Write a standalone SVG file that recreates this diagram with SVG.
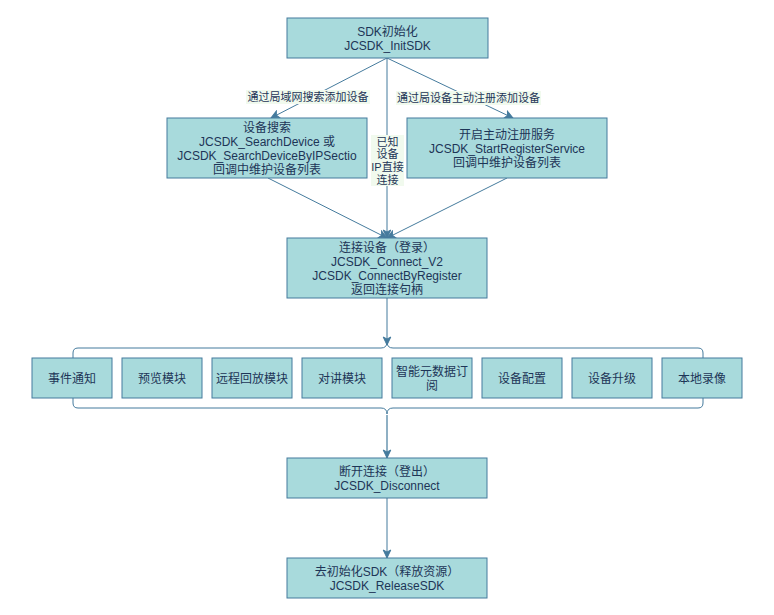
<svg xmlns="http://www.w3.org/2000/svg" width="774" height="615" viewBox="0 0 774 615">
<style>
.box{fill:#A8DADC;stroke:#457B9D;stroke-width:1}
.t{font-family:"Liberation Sans","Noto Sans CJK SC",sans-serif;font-size:12px;fill:#1D3557;text-anchor:middle}
.lt{font-family:"Liberation Sans","Noto Sans CJK SC",sans-serif;font-size:11px;fill:#1D3557;text-anchor:middle}
.e{fill:none;stroke:#457B9D;stroke-width:1}
.lbg{fill:#F1FAEE}
</style>
<defs>
<marker id="ah" viewBox="-9 -5 10 10" refX="0" refY="0" markerWidth="10" markerHeight="10" markerUnits="userSpaceOnUse" orient="auto">
<path d="M0,0 L-8,-3.8 L-6,0 L-8,3.8 Z" fill="#457B9D" stroke="#457B9D" stroke-width="1"/>
</marker>
</defs>
<rect width="774" height="615" fill="#ffffff"/>
<g id="connectors">
<path class="e" d="M387,58 L271,118" marker-end="url(#ah)"/>
<path class="e" d="M387,58 L513,118" marker-end="url(#ah)"/>
<path class="e" d="M387,58 L387,238" marker-end="url(#ah)"/>
<path class="e" d="M268,178 L387,238" marker-end="url(#ah)"/>
<path class="e" d="M507,178 L387,238" marker-end="url(#ah)"/>
<path class="e" d="M387,298 L387,345" marker-end="url(#ah)"/>
<path d="M387,415 L387,458" fill="none" stroke="#457B9D" stroke-opacity="0.6" stroke-width="2" marker-end="url(#ah)"/>
<path class="e" d="M387,498 L387,558" marker-end="url(#ah)"/>
<rect class="lbg" x="246" y="90" width="124" height="14"/>
<text class="lt" x="308" y="101">通过局域网搜索添加设备</text>
<rect class="lbg" x="396" y="91" width="145" height="14"/>
<text class="lt" x="468.5" y="102">通过局设备主动注册添加设备</text>
<rect class="lbg" x="371" y="135" width="33" height="51"/>
<text class="lt" x="387.5" y="145.5">已知</text>
<text class="lt" x="387.5" y="158">设备</text>
<text class="lt" x="387.5" y="171">IP直接</text>
<text class="lt" x="387.5" y="184">连接</text>
</g>
<g id="n-init">
<rect class="box" x="287" y="18" width="201" height="40"/>
<text class="t" x="387.5" y="35.5">SDK初始化</text>
<text class="t" x="387.5" y="49.5">JCSDK_InitSDK</text>
</g>
<g id="n-search">
<rect class="box" x="167" y="118" width="200" height="60"/>
<text class="t" x="267" y="131.5">设备搜索</text>
<text class="t" x="267" y="145.5">JCSDK_SearchDevice 或</text>
<text class="t" x="267" y="159.5">JCSDK_SearchDeviceByIPSectio</text>
<text class="t" x="267" y="173.5">回调中维护设备列表</text>
</g>
<g id="n-register">
<rect class="box" x="407" y="118" width="200" height="60"/>
<text class="t" x="507" y="138.5">开启主动注册服务</text>
<text class="t" x="507" y="152.5">JCSDK_StartRegisterService</text>
<text class="t" x="507" y="166.5">回调中维护设备列表</text>
</g>
<g id="n-connect">
<rect class="box" x="287" y="238" width="200" height="60"/>
<text class="t" x="387" y="251.5">连接设备（登录）</text>
<text class="t" x="387" y="265.5">JCSDK_Connect_V2</text>
<text class="t" x="387" y="279.5">JCSDK_ConnectByRegister</text>
<text class="t" x="387" y="293.5">返回连接句柄</text>
</g>
<g id="n-brace-top">
<path class="e" d="M73,358 L73,353 Q73,348 78,348 L381,348 Q387,348 387,342 Q387,348 393,348 L698,348 Q703,348 703,353 L703,358"/>
</g>
<g id="n-brace-bottom">
<path class="e" d="M73,398 L73,403 Q73,408 78,408 L381,408 Q387,408 387,414 Q387,408 393,408 L698,408 Q703,408 703,403 L703,398"/>
</g>
<g id="n-event">
<rect class="box" x="32" y="358" width="80" height="40"/>
<text class="t" x="72" y="382.5">事件通知</text>
</g>
<g id="n-preview">
<rect class="box" x="122" y="358" width="80" height="40"/>
<text class="t" x="162" y="382.5">预览模块</text>
</g>
<g id="n-playback">
<rect class="box" x="212" y="358" width="80" height="40"/>
<text class="t" x="252" y="382.5">远程回放模块</text>
</g>
<g id="n-talk">
<rect class="box" x="302" y="358" width="80" height="40"/>
<text class="t" x="342" y="382.5">对讲模块</text>
</g>
<g id="n-meta">
<rect class="box" x="392" y="358" width="80" height="40"/>
<text class="t" x="432" y="376">智能元数据订</text>
<text class="t" x="432" y="389.5">阅</text>
</g>
<g id="n-config">
<rect class="box" x="482" y="358" width="80" height="40"/>
<text class="t" x="522" y="382.5">设备配置</text>
</g>
<g id="n-upgrade">
<rect class="box" x="572" y="358" width="80" height="40"/>
<text class="t" x="612" y="382.5">设备升级</text>
</g>
<g id="n-record">
<rect class="box" x="662" y="358" width="80" height="40"/>
<text class="t" x="702" y="382.5">本地录像</text>
</g>
<g id="n-disconnect">
<rect class="box" x="287" y="458" width="200" height="40"/>
<text class="t" x="387" y="475.5">断开连接（登出）</text>
<text class="t" x="387" y="489.5">JCSDK_Disconnect</text>
</g>
<g id="n-release">
<rect class="box" x="287" y="558" width="200" height="40"/>
<text class="t" x="387" y="575.5">去初始化SDK（释放资源）</text>
<text class="t" x="387" y="589.5">JCSDK_ReleaseSDK</text>
</g>
</svg>
